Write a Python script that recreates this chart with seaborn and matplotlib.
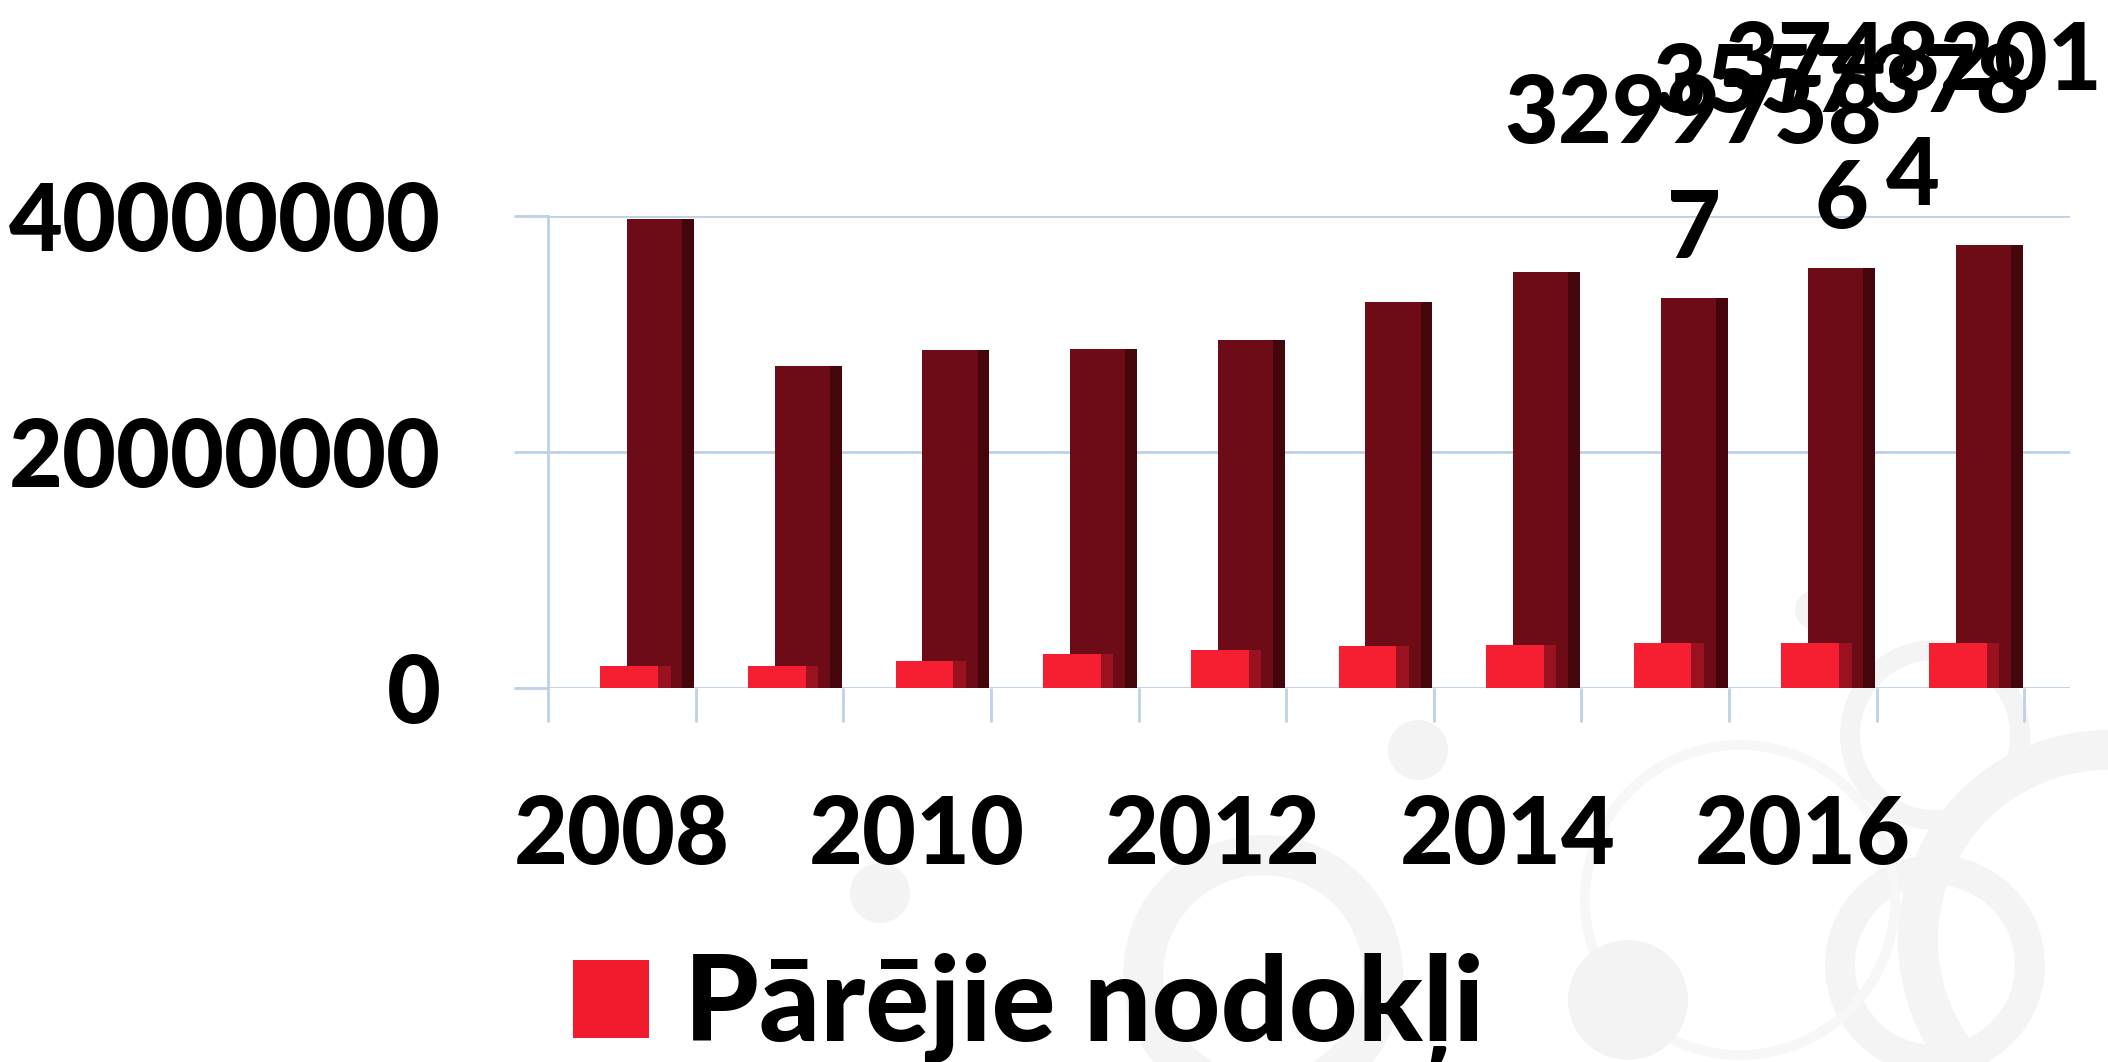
import numpy as np
import pandas as pd
import seaborn as sns
import matplotlib
matplotlib.use("Agg")
import matplotlib.pyplot as plt
from matplotlib.patches import Patch, Circle, Wedge

# ---------------- data ----------------
years = ["2008", "2009", "2010", "2011", "2012", "2013", "2014", "2015", "2016", "2017"]
total_taxes = [39700000, 27250000, 28600000, 28700000, 29500000, 32700000,
               35200000, 32997587, 35573786, 37482014]
other_taxes = [1890000, 1840000, 2320000, 2910000, 3250000, 3590000,
               3620000, 3790000, 3810000, 3840000]
labelled_years = ["2015", "2016", "2017"]
legend_label = "Pārējie nodokļi"
y_ticks = [0, 20000000, 40000000]

# ---------------- style ----------------
sns.set_theme(style="white")
plt.rcParams["font.family"] = ["Lato", "DejaVu Sans"]
plt.rcParams["text.color"] = "black"
plt.rcParams["xtick.color"] = "black"
plt.rcParams["ytick.color"] = "black"

W = "black"  # font weight
DARK = "#6d0c16"
DARK_SIDE = "#44050b"
RED = "#f61f31"
RED_SIDE = "#9a1220"
GRID = "#bcd0e6"
FS = 67
TL = 24.5  # tick length in points

fig = plt.figure(figsize=(21.08, 10.62), dpi=100)
fig.patch.set_facecolor("white")

# faint decorative background rings (bottom right)
def ring(cx, cy, r, w, color="#f4f4f4"):
    fig.patches.append(Wedge((cx / 100, (1062 - cy) / 100), r / 100, 0, 360,
                             width=w / 100, transform=fig.dpi_scale_trans,
                             facecolor=color, edgecolor="none", zorder=-5))

def disc(cx, cy, r, color="#f3f3f3"):
    fig.patches.append(Circle((cx / 100, (1062 - cy) / 100), r / 100,
                              transform=fig.dpi_scale_trans,
                              facecolor=color, edgecolor="none", zorder=-5))

ring(1263, 975, 140, 40)
ring(1935, 735, 95, 20)
ring(1935, 965, 110, 30)
ring(2108, 940, 210, 40)
ring(1740, 900, 160, 10, "#f7f7f7")
disc(1418, 750, 30)
disc(880, 893, 30)
disc(1628, 1000, 60)
disc(1815, 610, 20)

ax = fig.add_axes([0.260, 0.352, 0.722, 0.445])
ax.set_facecolor("none")
ax.set_zorder(1)

pos = np.arange(len(years))

# back series (dark) – face and shaded side
sns.barplot(x=pos + 0.223, y=total_taxes, native_scale=True, width=0.374,
            color=DARK, saturation=1, errorbar=None, linewidth=0, ax=ax)
sns.barplot(x=pos + 0.45, y=total_taxes, native_scale=True, width=0.08,
            color=DARK_SIDE, saturation=1, errorbar=None, linewidth=0, ax=ax)
# front series (red) – side then face
sns.barplot(x=pos + 0.2875, y=other_taxes, native_scale=True, width=0.085,
            color=RED_SIDE, saturation=1, errorbar=None, linewidth=0, ax=ax)
sns.barplot(x=pos + 0.05, y=other_taxes, native_scale=True, width=0.39,
            color=RED, saturation=1, errorbar=None, linewidth=0, ax=ax)

ax.set_xlim(-0.5, 9.81)
ax.set_ylim(0, 40000000)

# axes styling
for s in ["top", "right", "bottom"]:
    ax.spines[s].set_visible(False)
ax.spines["left"].set_color(GRID)
ax.spines["left"].set_linewidth(2)
ax.spines["left"].set_bounds(0, 40000000)

ax.set_yticks(y_ticks)
ax.set_yticklabels([str(v) for v in y_ticks], fontsize=FS, fontweight=W)
ax.yaxis.grid(True, color=GRID, linewidth=2)
ax.set_axisbelow(True)
ax.tick_params(axis="y", left=True, length=TL, width=2, color=GRID,
               labelcolor="black", direction="out", pad=52.5)

major = [i for i, y in enumerate(years) if int(y) % 2 == 0]
ax.set_xticks(major)
ax.set_xticklabels([years[i] for i in major], fontsize=FS, fontweight=W)
ax.set_xticks(np.arange(-0.5, len(years)), minor=True)
ax.tick_params(axis="x", which="major", bottom=True, length=0, pad=76,
               labelcolor="black")
ax.tick_params(axis="x", which="minor", bottom=True, length=TL, width=2,
               color=GRID, direction="out")
ax.set_xlabel("")
ax.set_ylabel("")

# data labels (Excel-style wrapped numbers) above the dark bars
fig.canvas.draw()
renderer = fig.canvas.get_renderer()
for yr in labelled_years:
    i = years.index(yr)
    s = str(total_taxes[i])
    txt = s[:7] + "\n" + s[7:]
    t = ax.annotate(txt, xy=(i + 0.26, total_taxes[i]), xytext=(0, 24),
                    textcoords="offset pixels", ha="center", va="bottom",
                    fontsize=FS, fontweight=W, linespacing=1.42, color="black",
                    annotation_clip=False, zorder=5)
    bb = t.get_window_extent(renderer)
    over = bb.x1 - (fig.bbox.width - 6)
    if over > 0:
        t.set_position((-over, 24))

# legend
fig.legend([Patch(facecolor="#f21b2e", edgecolor="none")], [legend_label],
           loc="lower left", bbox_to_anchor=(0.272, -0.002), frameon=False,
           prop={"weight": W, "size": 86},
           handlelength=0.63, handleheight=0.63, handletextpad=0.3,
           borderpad=0, borderaxespad=0)

fig.savefig("out.png", dpi=100, facecolor="white")
